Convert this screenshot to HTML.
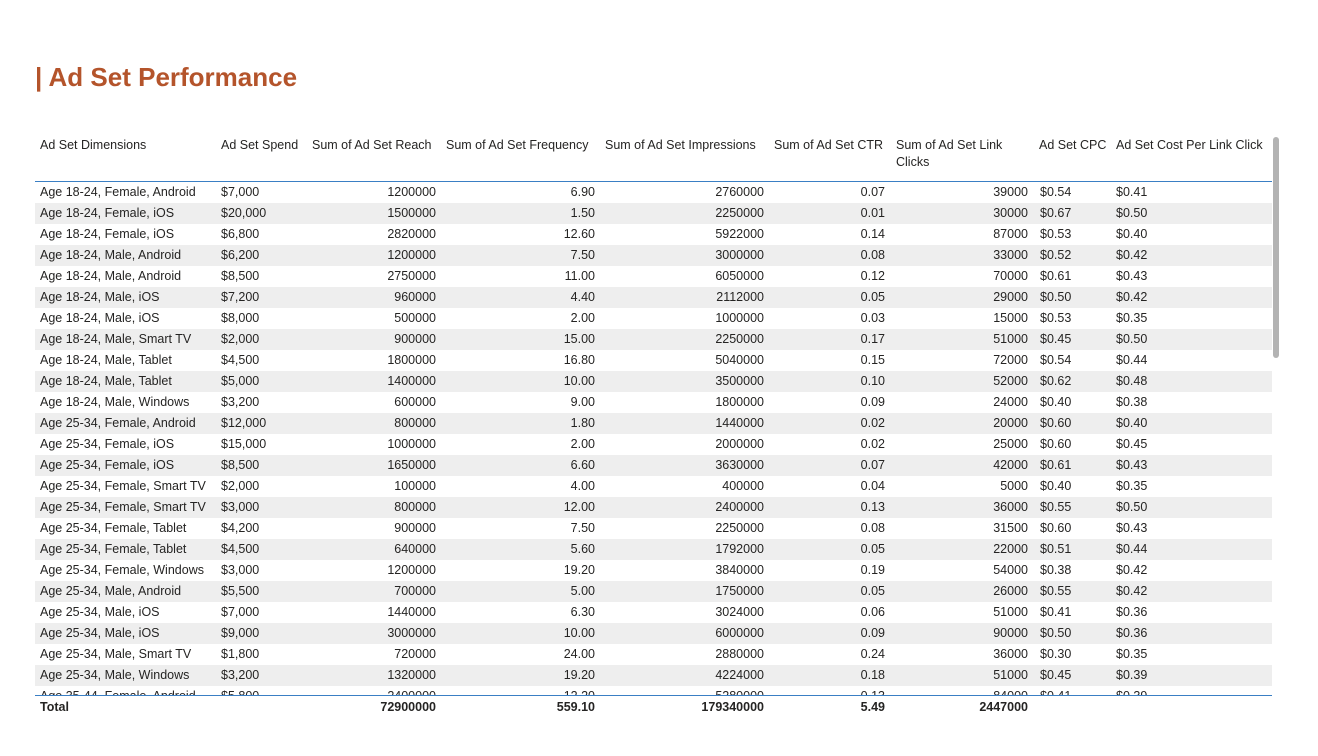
<!DOCTYPE html>
<html><head><meta charset="utf-8">
<style>
body{margin:0;width:1318px;height:756px;background:#fff;font-family:"Liberation Sans",sans-serif;position:relative;overflow:hidden;color:#252423}
.t{position:absolute;font-size:12.5px;white-space:nowrap;line-height:21px;height:21px}
.r{text-align:right}
.row{position:absolute;left:35px;width:1237px;height:21px}
.g{background:#eeeeee}
#title{position:absolute;left:35px;top:62px;font-size:26px;font-weight:bold;color:#b4542b}
.h{position:absolute;font-size:12.5px;line-height:17px;top:137px}
#clip{position:absolute;left:0;top:182px;width:1318px;height:513px;overflow:hidden}
.b{font-weight:bold}
</style></head><body>
<div id="title">| Ad Set Performance</div>
<div class="h" style="left:40px">Ad Set Dimensions</div>
<div class="h" style="left:221px">Ad Set Spend</div>
<div class="h" style="left:312px">Sum of Ad Set Reach</div>
<div class="h" style="left:446px">Sum of Ad Set Frequency</div>
<div class="h" style="left:605px">Sum of Ad Set Impressions</div>
<div class="h" style="left:774px">Sum of Ad Set CTR</div>
<div class="h" style="left:896px">Sum of Ad Set Link<br>Clicks</div>
<div class="h" style="left:1039px">Ad Set CPC</div>
<div class="h" style="left:1116px">Ad Set Cost Per Link Click</div>
<div style="position:absolute;left:35px;top:181px;width:1237px;height:1px;background:#3a7fc4"></div>
<div id="clip"></div>
<div style="position:absolute;left:35px;top:695px;width:1237px;height:1px;background:#3a7fc4"></div>
<div class="t b" style="left:40px;top:697px">Total</div>
<div class="t b r" style="right:882px;top:697px">72900000</div>
<div class="t b r" style="right:723px;top:697px">559.10</div>
<div class="t b r" style="right:554px;top:697px">179340000</div>
<div class="t b r" style="right:433px;top:697px">5.49</div>
<div class="t b r" style="right:290px;top:697px">2447000</div>
<div style="position:absolute;left:1273px;top:137px;width:6px;height:221px;border-radius:3px;background:#b3b3b3"></div>
<script>
const dims=["Age 18-24, Female, Android","Age 18-24, Female, iOS","Age 18-24, Female, iOS","Age 18-24, Male, Android","Age 18-24, Male, Android","Age 18-24, Male, iOS","Age 18-24, Male, iOS","Age 18-24, Male, Smart TV","Age 18-24, Male, Tablet","Age 18-24, Male, Tablet","Age 18-24, Male, Windows","Age 25-34, Female, Android","Age 25-34, Female, iOS","Age 25-34, Female, iOS","Age 25-34, Female, Smart TV","Age 25-34, Female, Smart TV","Age 25-34, Female, Tablet","Age 25-34, Female, Tablet","Age 25-34, Female, Windows","Age 25-34, Male, Android","Age 25-34, Male, iOS","Age 25-34, Male, iOS","Age 25-34, Male, Smart TV","Age 25-34, Male, Windows","Age 35-44, Female, Android"];
const spend=["$7,000","$20,000","$6,800","$6,200","$8,500","$7,200","$8,000","$2,000","$4,500","$5,000","$3,200","$12,000","$15,000","$8,500","$2,000","$3,000","$4,200","$4,500","$3,000","$5,500","$7,000","$9,000","$1,800","$3,200","$5,800"];
const reach=[1200000,1500000,2820000,1200000,2750000,960000,500000,900000,1800000,1400000,600000,800000,1000000,1650000,100000,800000,900000,640000,1200000,700000,1440000,3000000,720000,1320000,2400000];
const freq=["6.90","1.50","12.60","7.50","11.00","4.40","2.00","15.00","16.80","10.00","9.00","1.80","2.00","6.60","4.00","12.00","7.50","5.60","19.20","5.00","6.30","10.00","24.00","19.20","12.20"];
const impr=[2760000,2250000,5922000,3000000,6050000,2112000,1000000,2250000,5040000,3500000,1800000,1440000,2000000,3630000,400000,2400000,2250000,1792000,3840000,1750000,3024000,6000000,2880000,4224000,5280000];
const ctr=["0.07","0.01","0.14","0.08","0.12","0.05","0.03","0.17","0.15","0.10","0.09","0.02","0.02","0.07","0.04","0.13","0.08","0.05","0.19","0.05","0.06","0.09","0.24","0.18","0.13"];
const clicks=[39000,30000,87000,33000,70000,29000,15000,51000,72000,52000,24000,20000,25000,42000,5000,36000,31500,22000,54000,26000,51000,90000,36000,51000,84000];
const cpc=["$0.54","$0.67","$0.53","$0.52","$0.61","$0.50","$0.53","$0.45","$0.54","$0.62","$0.40","$0.60","$0.60","$0.61","$0.40","$0.55","$0.60","$0.51","$0.38","$0.55","$0.41","$0.50","$0.30","$0.45","$0.41"];
const cplc=["$0.41","$0.50","$0.40","$0.42","$0.43","$0.42","$0.35","$0.50","$0.44","$0.48","$0.38","$0.40","$0.45","$0.43","$0.35","$0.50","$0.43","$0.44","$0.42","$0.42","$0.36","$0.36","$0.35","$0.39","$0.39"];
const clip=document.getElementById('clip');
function cell(txt,top,left,right,name){
  const d=document.createElement('div');
  d.className='t'+(right!=null?' r':'');
  d.style.top=top+'px';
  if(right!=null)d.style.right=right+'px';else d.style.left=left+'px';
  d.textContent=txt;
  
  
  clip.appendChild(d);
}
dims.forEach((dm,i)=>{
  const top=i*21;
  const row=document.createElement('div');
  row.className='row'+(i%2?' g':'');
  row.style.top=top+'px';
  
  
  clip.appendChild(row);
  cell(dm,top,40,null,'dimension-cell');
  cell(spend[i],top,221,null,'spend-cell');
  cell(String(reach[i]),top,null,882,'reach-cell');
  cell(freq[i],top,null,723,'frequency-cell');
  cell(String(impr[i]),top,null,554,'impressions-cell');
  cell(ctr[i],top,null,433,'ctr-cell');
  cell(String(clicks[i]),top,null,290,'link-clicks-cell');
  cell(cpc[i],top,1040,null,'cpc-cell');
  cell(cplc[i],top,1116,null,'cost-per-link-click-cell');
});
</script>
</body></html>
